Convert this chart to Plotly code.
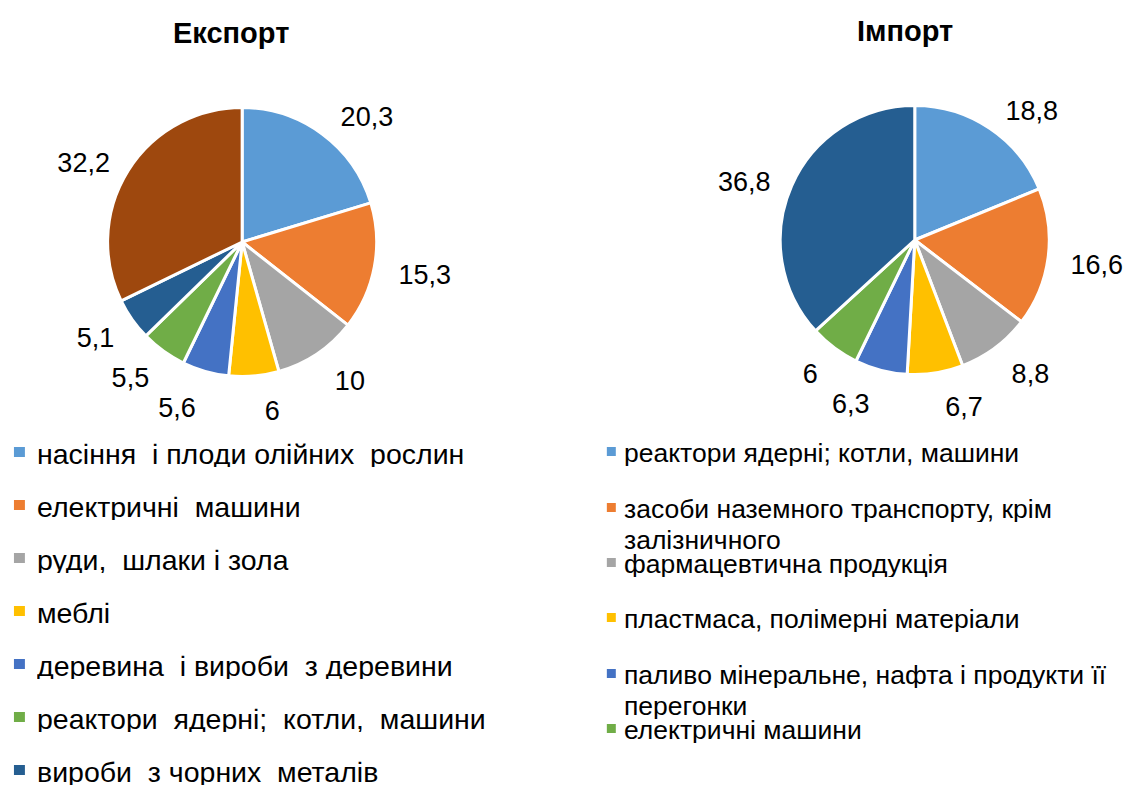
import plotly.graph_objects as go

W, H = 1128, 786

# ---- data ----
export_labels = [
    "насіння  і плоди олійних  рослин",
    "електричні  машини",
    "руди,  шлаки і зола",
    "меблі",
    "деревина  і вироби  з деревини",
    "реактори  ядерні;  котли,  машини",
    "вироби  з чорних  металів",
    "інші",
]
export_values = [20.3, 15.3, 10, 6, 5.6, 5.5, 5.1, 32.2]

import_labels = [
    "реактори ядерні; котли, машини",
    "засоби наземного транспорту, крім<br>залізничного",
    "фармацевтична продукція",
    "пластмаса, полімерні матеріали",
    "паливо мінеральне, нафта і продукти її<br>перегонки",
    "електричні машини",
    "інші",
]
import_values = [18.8, 16.6, 8.8, 6.7, 6.3, 6, 36.8]

export_colors = ["#5B9BD5", "#ED7D31", "#A5A5A5", "#FFC000", "#4472C4",
                 "#70AD47", "#255E91", "#9E480E"]
import_colors = ["#5B9BD5", "#ED7D31", "#A5A5A5", "#FFC000", "#4472C4",
                 "#70AD47", "#255E91"]

# legend shows all but the last slice
export_legend_n = 7
import_legend_n = 6

FONT = "Liberation Sans, Arial, sans-serif"
LABEL_SIZE = 27


def fmt(v):
    return ("%g" % v).replace(".", ",")


def dom_x(cx, r):
    return [(cx - r) / W, (cx + r) / W]


def dom_y(cy, r):
    return [(H - cy - r) / H, (H - cy + r) / H]


fig = go.Figure()

PIE_R = 135
LABEL_R = 150   # labels sit beyond the rim, as in the reference
LABEL_DY = 5    # reference labels sit slightly low


def add_pie(labels, values, colors, cx, cy, ldx=0):
    plain = [l.replace("<br>", " ") for l in labels]
    # transparent, larger copy carries the outside value labels
    fig.add_trace(go.Pie(
        labels=plain, values=values,
        text=[fmt(v) for v in values], textinfo="text",
        textposition="outside", sort=False, direction="clockwise", rotation=0,
        marker=dict(colors=["rgba(0,0,0,0)"] * len(values),
                    line=dict(width=0)),
        textfont=dict(family=FONT, size=LABEL_SIZE, color="black"),
        domain=dict(x=dom_x(cx + ldx, LABEL_R), y=dom_y(cy + LABEL_DY, LABEL_R)),
        showlegend=False, hoverinfo="skip",
    ))
    fig.add_trace(go.Pie(
        labels=plain, values=values,
        textinfo="none", sort=False, direction="clockwise", rotation=0,
        marker=dict(colors=colors, line=dict(color="white", width=3)),
        domain=dict(x=dom_x(cx, PIE_R), y=dom_y(cy, PIE_R)),
        showlegend=False, hoverinfo="label+value",
    ))


add_pie(export_labels, export_values, export_colors, 243, 242, ldx=2)
add_pie(import_labels, import_values, import_colors, 918, 240, ldx=0)

annotations = []
shapes = []

# titles
annotations.append(dict(text="<b>Експорт</b>", x=232 / W, y=1 - 33 / H,
                        xref="paper", yref="paper", showarrow=False,
                        xanchor="center", yanchor="middle",
                        font=dict(family=FONT, size=29, color="black")))
annotations.append(dict(text="<b>Імпорт</b>", x=908 / W, y=1 - 31 / H,
                        xref="paper", yref="paper", showarrow=False,
                        xanchor="center", yanchor="middle",
                        font=dict(family=FONT, size=29, color="black")))

# export legend (manual), rows by x-height centre
ex_rows = [456 + 53 * i for i in range(export_legend_n)]
for i in range(export_legend_n):
    yc = ex_rows[i]
    shapes.append(dict(type="rect", xref="paper", yref="paper",
                       x0=14 / W, x1=25 / W, y0=1 - (yc - 9) / H, y1=1 - (yc + 1) / H,
                       fillcolor=export_colors[i], line=dict(width=0)))
    annotations.append(dict(text=export_labels[i], x=36 / W, y=1 - (yc - 2) / H,
                            xref="paper", yref="paper", showarrow=False,
                            xanchor="left", yanchor="middle",
                            height=26, borderpad=0, valign="middle",
                            font=dict(family=FONT, size=28.5, color="black")))

# import legend (manual)
im_rows = [455, 511, 566, 621, 677, 732]
IM_LINE = 31
for i in range(import_legend_n):
    yc = im_rows[i]
    shapes.append(dict(type="rect", xref="paper", yref="paper",
                       x0=609 / W, x1=618 / W, y0=1 - (yc - 8) / H, y1=1 - (yc + 1) / H,
                       fillcolor=import_colors[i], line=dict(width=0)))
    for j, line in enumerate(import_labels[i].split("<br>")):
        annotations.append(dict(text=line, x=625 / W, y=1 - (yc - 2 + j * IM_LINE) / H,
                                xref="paper", yref="paper", showarrow=False,
                                xanchor="left", yanchor="middle", align="left",
                                height=26, borderpad=0, valign="middle",
                                font=dict(family=FONT, size=26.5, color="black")))

fig.update_layout(
    width=W, height=H, autosize=False,
    margin=dict(l=0, r=0, t=0, b=0, pad=0),
    paper_bgcolor="white", plot_bgcolor="white",
    annotations=annotations, shapes=shapes,
    font=dict(family=FONT),
)

page_js = ("document.documentElement.style.margin='0';"
           "document.documentElement.style.overflow='hidden';"
           "document.body.style.margin='0';"
           "document.body.style.padding='0';"
           "document.body.style.overflow='hidden';"
           "var st=document.createElement('style');"
           "st.textContent='path.textline{display:none}';"
           "document.head.appendChild(st);")

fig.write_html("out.html", config={"displayModeBar": False, "responsive": False},
               post_script=page_js)
